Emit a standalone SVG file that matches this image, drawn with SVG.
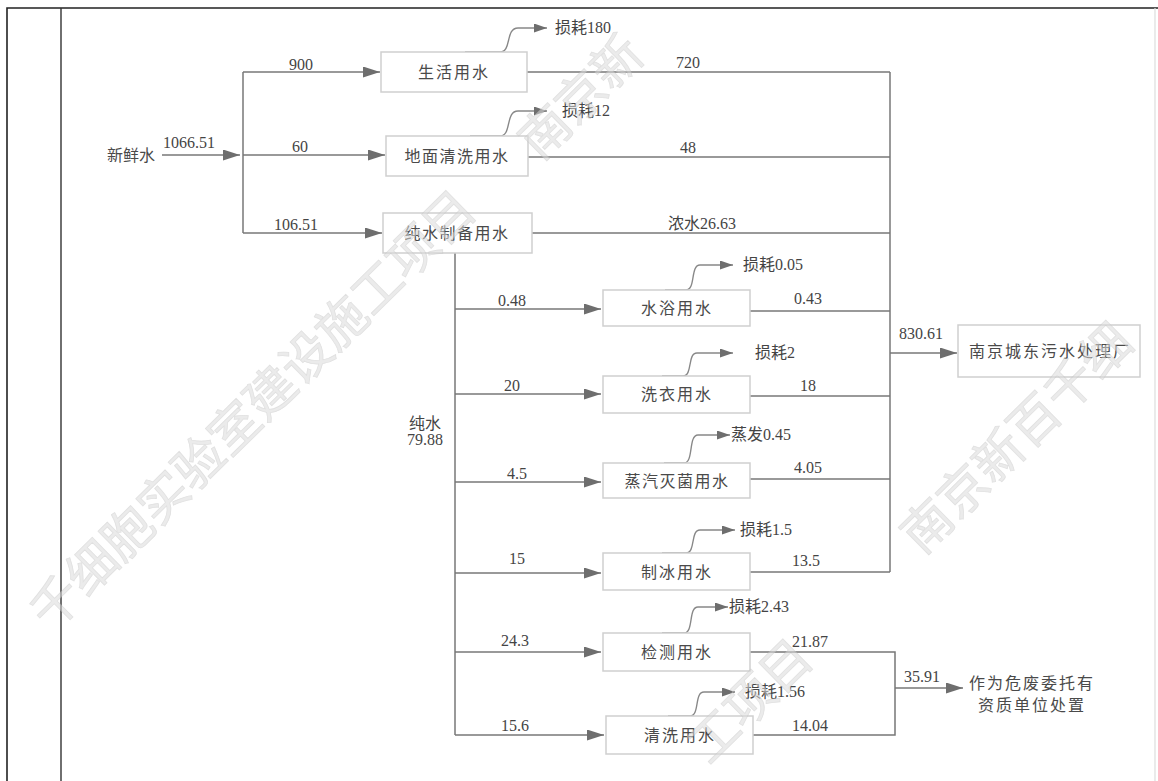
<svg xmlns="http://www.w3.org/2000/svg" width="1158" height="781" viewBox="0 0 1158 781">
<style>
.ln{fill:none;stroke:#777;stroke-width:1.5}
.lc{fill:none;stroke:#888;stroke-width:1.4}
.bx{fill:#fff;stroke:#cfcfcf;stroke-width:1.5}
.t{font-family:"Noto Sans CJK SC","Liberation Serif",sans-serif;font-size:16px;fill:#4a4a4a;text-anchor:middle}
.n{font-family:"Liberation Serif","Noto Sans CJK SC",serif;font-size:16px;fill:#444;text-anchor:middle}
.nl{font-family:"Liberation Serif","Noto Sans CJK SC",serif;font-size:16px;fill:#444}
.wm{font-family:"Noto Sans CJK SC",sans-serif;font-size:50px;fill:#dcdcdc;stroke:#c8c8c8;stroke-width:0.8;opacity:0.55}
</style>
<defs>
<marker id="ar" markerUnits="userSpaceOnUse" markerWidth="17" markerHeight="11" refX="17" refY="5.5" orient="auto"><path d="M0,0 L17,5.5 L0,11 z" fill="#6e6e6e"/></marker>
<marker id="as" markerUnits="userSpaceOnUse" markerWidth="13" markerHeight="9" refX="13" refY="4.5" orient="auto"><path d="M0,0 L13,4.5 L0,9 z" fill="#6e6e6e"/></marker>
</defs>
<rect width="1158" height="781" fill="#fff"/>
<g id="frame" fill="none">
<path d="M7,781 V8 H1158" stroke="#222" stroke-width="1.6"/>
<path d="M61,8 V781" stroke="#333" stroke-width="1.4"/>
<path d="M1155,8 V781" stroke="#ddd" stroke-width="1.2"/>
</g>
<g id="connectors">
<path class="ln" d="M162,155 H240" marker-end="url(#ar)"/>
<path class="ln" d="M243,72 V233"/>
<path class="ln" d="M243,72 H380" marker-end="url(#ar)"/>
<path class="ln" d="M243,155 H385" marker-end="url(#ar)"/>
<path class="ln" d="M243,233 H382" marker-end="url(#ar)"/>
<path class="ln" d="M527,72 H890"/>
<path class="ln" d="M528,157 H890"/>
<path class="ln" d="M532,233 H890"/>
<path class="ln" d="M890,72 V572"/>
<path class="ln" d="M890,353 H957" marker-end="url(#ar)"/>
<path class="ln" d="M455,253 V735"/>
<path class="ln" d="M455,309 H601" marker-end="url(#ar)"/>
<path class="ln" d="M455,394 H601" marker-end="url(#ar)"/>
<path class="ln" d="M455,482 H601" marker-end="url(#ar)"/>
<path class="ln" d="M455,573 H601" marker-end="url(#ar)"/>
<path class="ln" d="M455,652 H601" marker-end="url(#ar)"/>
<path class="ln" d="M455,735 H604" marker-end="url(#ar)"/>
<path class="ln" d="M750,311 H890"/>
<path class="ln" d="M750,396 H890"/>
<path class="ln" d="M750,479 H890"/>
<path class="ln" d="M750,572 H890"/>
<path class="ln" d="M750,652 H895 V735 H753"/>
<path class="ln" d="M895,688 H963" marker-end="url(#ar)"/>
<path class="lc" d="M465,52 H500 C512,52 505,28 518,28 H547" marker-end="url(#as)"/>
<path class="lc" d="M470,136 H500 C512,136 505,111 518,111 H547" marker-end="url(#as)"/>
<path class="lc" d="M665,290 H686 C696,290 690,265 700,265 H733" marker-end="url(#as)"/>
<path class="lc" d="M662,376 H683 C693,376 687,353 697,353 H733" marker-end="url(#as)"/>
<path class="lc" d="M664,463 H684 C694,463 688,435 698,435 H730" marker-end="url(#as)"/>
<path class="lc" d="M662,553 H686 C696,553 690,530 700,530 H735" marker-end="url(#as)"/>
<path class="lc" d="M662,633 H684 C694,633 688,607 698,607 H728" marker-end="url(#as)"/>
<path class="lc" d="M668,716 H690 C700,716 694,692 704,692 H735" marker-end="url(#as)"/>
</g>
<g id="labels">
<text class="nl" x="163" y="148">1066.51</text>
<text class="n" x="301" y="70">900</text>
<text class="n" x="300" y="152">60</text>
<text class="n" x="296" y="230">106.51</text>
<text class="n" x="688" y="68">720</text>
<text class="n" x="688" y="153">48</text>
<text class="n" x="702" y="229">浓水26.63</text>
<text class="n" x="512" y="306">0.48</text>
<text class="n" x="512" y="391">20</text>
<text class="n" x="517" y="479">4.5</text>
<text class="n" x="517" y="564">15</text>
<text class="n" x="515" y="646">24.3</text>
<text class="n" x="515" y="731">15.6</text>
<text class="n" x="808" y="304">0.43</text>
<text class="n" x="808" y="391">18</text>
<text class="n" x="808" y="473">4.05</text>
<text class="n" x="806" y="566">13.5</text>
<text class="n" x="921" y="339">830.61</text>
<text class="n" x="810" y="647">21.87</text>
<text class="n" x="810" y="731">14.04</text>
<text class="n" x="922" y="682">35.91</text>
<text class="n" x="425" y="429">纯水</text>
<text class="n" x="425" y="445">79.88</text>
<text class="nl" x="555" y="33">损耗180</text>
<text class="nl" x="562" y="116">损耗12</text>
<text class="nl" x="743" y="270">损耗0.05</text>
<text class="nl" x="755" y="358">损耗2</text>
<text class="nl" x="731" y="440">蒸发0.45</text>
<text class="nl" x="740" y="535">损耗1.5</text>
<text class="nl" x="729" y="612">损耗2.43</text>
<text class="nl" x="745" y="697">损耗1.56</text>
</g>
<g id="fresh"><text class="t" x="131" y="161">新鲜水</text></g>
<g id="n-shenghuo"><rect class="bx" x="381" y="52" width="146" height="40"/><text class="t" x="454" y="78" letter-spacing="2">生活用水</text></g>
<g id="n-dimian"><rect class="bx" x="386" y="136" width="142" height="40"/><text class="t" x="457" y="162" letter-spacing="1.5">地面清洗用水</text></g>
<g id="n-chunshui"><rect class="bx" x="383" y="213" width="149" height="40"/><text class="t" x="457" y="239" letter-spacing="1.5">纯水制备用水</text></g>
<g id="n-shuiyu"><rect class="bx" x="603" y="290" width="147" height="36"/><text class="t" x="677" y="314" letter-spacing="2">水浴用水</text></g>
<g id="n-xiyi"><rect class="bx" x="603" y="376" width="147" height="37"/><text class="t" x="677" y="400" letter-spacing="2">洗衣用水</text></g>
<g id="n-zhengqi"><rect class="bx" x="603" y="463" width="147" height="35"/><text class="t" x="677" y="487" letter-spacing="1.5">蒸汽灭菌用水</text></g>
<g id="n-zhibing"><rect class="bx" x="603" y="553" width="147" height="37"/><text class="t" x="677" y="578" letter-spacing="2">制冰用水</text></g>
<g id="n-jiance"><rect class="bx" x="603" y="633" width="147" height="38"/><text class="t" x="677" y="658" letter-spacing="2">检测用水</text></g>
<g id="n-qingxi"><rect class="bx" x="606" y="716" width="147" height="38"/><text class="t" x="680" y="741" letter-spacing="2">清洗用水</text></g>
<g id="n-wushui"><rect class="bx" x="958" y="325" width="182" height="52"/><text class="t" x="1050" y="357" letter-spacing="2">南京城东污水处理厂</text></g>
<g id="n-weifei"><text class="t" x="1032" y="689" letter-spacing="2">作为危废委托有</text><text class="t" x="1032" y="711" letter-spacing="2">资质单位处置</text></g>
<g id="watermark">
<text class="wm" transform="translate(51,633) rotate(-44.5)">千细胞实验室建设施工项目</text>
<text class="wm" transform="translate(540,162) rotate(-44.5)">南京新</text>
<text class="wm" transform="translate(709,766) rotate(-44.5)">工项目</text>
<text class="wm" transform="translate(922,556) rotate(-44.5)">南京新百千细</text>
</g>
</svg>
